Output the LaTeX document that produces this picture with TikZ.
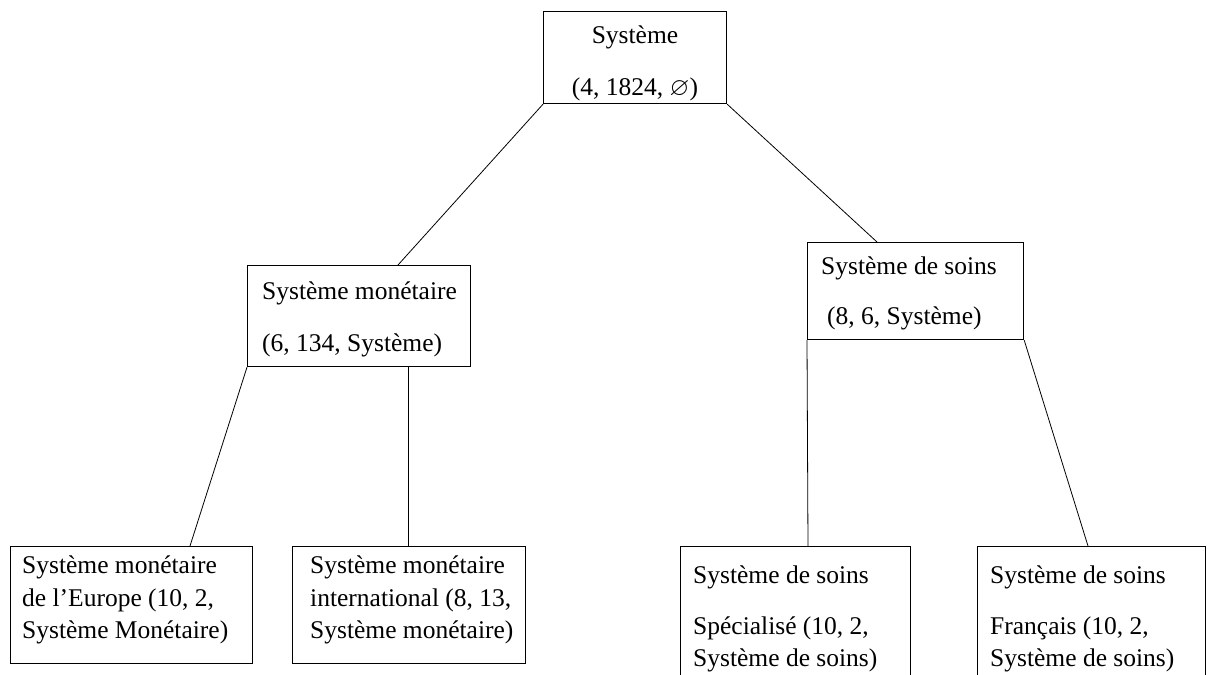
\documentclass[tikz,border=0pt]{standalone}
\usepackage{amssymb}
\usepackage{fontspec}
\setmainfont{Liberation Serif}
\usetikzlibrary{calc}
\begin{document}
\begin{tikzpicture}[x=1pt,y=-1pt,
  box/.style={draw,line width=1.2pt,anchor=north west,inner sep=0pt},
  lbl/.style={anchor=west,inner sep=0pt,font=\fontsize{25.5}{30}\selectfont},
  clbl/.style={anchor=center,inner sep=0pt,font=\fontsize{25.5}{30}\selectfont},
  link/.style={line width=0.8pt}]
\useasboundingbox (0,0) rectangle (1211,675);
\clip (0,0) rectangle (1211,675);
% boxes
\node[box,minimum width=183pt,minimum height=92pt] (top) at (543,11) {};
\node[box,minimum width=223pt,minimum height=101pt] (mon) at (247,265) {};
\node[box,minimum width=216pt,minimum height=97pt] (soi) at (807,242) {};
\node[box,minimum width=242pt,minimum height=117pt] (b1) at (10,546) {};
\node[box,minimum width=233pt,minimum height=117pt] (b2) at (292,546) {};
\node[box,minimum width=230pt,minimum height=160pt] (b3) at (680,546) {};
\node[box,minimum width=228pt,minimum height=160pt] (b4) at (977,546) {};
% texts
\node[clbl] (t1) at (635,37) {Système};
\node[clbl] (t2) at (635,89) {(4, 1824, $\varnothing$)};
\node[lbl] (m1) at (262,293) {Système monétaire};
\node[lbl] (m2) at (262,345) {(6, 134, Système)};
\node[lbl] (s1) at (821,268) {Système de soins};
\node[lbl] (s2) at (827,318) {(8, 6, Système)};
\node[lbl] (a1) at (22,567) {Système monétaire};
\node[lbl] (a2) at (22,600) {de l’Europe (10, 2,};
\node[lbl] (a3) at (22,632) {Système Monétaire)};
\node[lbl] (c1) at (310,567) {Système monétaire};
\node[lbl] (c2) at (310,600) {international (8, 13,};
\node[lbl] (c3) at (310,632) {Système monétaire)};
\node[lbl] (d1) at (693,577) {Système de soins};
\node[lbl] (d2) at (693,628) {Spécialisé (10, 2,};
\node[lbl] (d3) at (693,660) {Système de soins)};
\node[lbl] (e1) at (990,577) {Système de soins};
\node[lbl] (e2) at (990,628) {Français (10, 2,};
\node[lbl] (e3) at (990,660) {Système de soins)};
% connectors
\draw[link] (top.south west) -- ($(mon.north west)+(151,0)$);
\draw[link] (top.south east) -- ($(soi.north west)+(70,0)$);
\draw[link] (mon.south west) -- ($(b1.north west)+(180,0)$);
\draw[link] ($(mon.south west)+(161,0)$) -- ($(b2.north west)+(116,0)$);
\draw[link] (soi.south west) -- ($(b3.north west)+(128,0)$);
\draw[link] (soi.south east) -- ($(b4.north west)+(111,0)$);
\end{tikzpicture}
\end{document}
